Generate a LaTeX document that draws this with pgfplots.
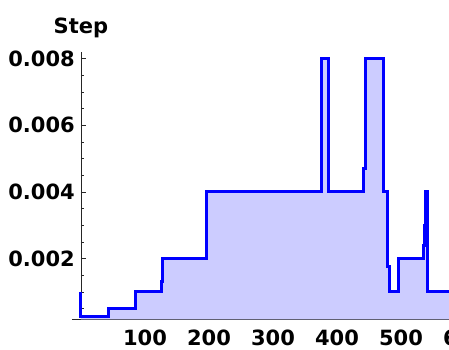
\documentclass[border=0pt]{standalone}
\usepackage{fontspec}
\setmainfont{DejaVu Sans}
\usepackage{pgfplots}
\pgfplotsset{compat=1.18}
\definecolor{fillc}{RGB}{204,204,255}
\definecolor{linec}{RGB}{0,0,255}
\begin{document}
\begin{tikzpicture}
\useasboundingbox (-72bp,-30bp) rectangle (377bp,319.3bp);
\begin{axis}[
  at={(0,0)}, anchor=south west,
  scale only axis, width=392.96bp, height=267.3bp,
  xmin=-14, xmax=600, ymin=0.00018, ymax=0.0082,
  axis lines=middle,
  axis line style={-, black!85, line width=0.8bp},
  /pgf/number format/assume math mode=true,
  scaled y ticks=false,
  xtick={100,200,300,400,500,600},
  xticklabels={100,200,300,400,500,600},
  ytick={0.002,0.004,0.006,0.008},
  yticklabels={0.002,0.004,0.006,0.008},
  minor xtick={20,40,60,80,120,140,160,180,220,240,260,280,320,340,360,380,420,440,460,480,520,540,560,580},
  minor ytick={0.0005,0.001,0.0015,0.0025,0.003,0.0035,0.0045,0.005,0.0055,0.0065,0.007,0.0075},
  tick align=inside,
  major tick length=5bp, minor tick length=3bp,
  tick style={black!85, line width=0.6bp},
  ticklabel style={font=\fontsize{21bp}{24bp}\selectfont\bfseries},
  xticklabel style={anchor=base, yshift=-26bp, inner sep=0pt},
  yticklabel style={anchor=east, inner sep=0pt, xshift=-6bp},
  ylabel={Step},
  every axis y label/.style={at={(axis cs:0,0.0082)}, anchor=base, yshift=19bp, font=\fontsize{21bp}{24bp}\selectfont\bfseries},
]
\addplot[const plot, fill=fillc, draw=none] coordinates {
(0,0.001) (0,0.00025) (43,0.0005) (85,0.001) (126,0.0013) (128,0.002)
(196,0.004) (376,0.008) (386,0.004) (442,0.0047) (444,0.008) (473,0.004)
(479,0.00175) (482,0.001) (496,0.002) (535,0.0024) (537,0.003) (539,0.004)
(542,0.001) (600,0.001)} \closedcycle;
\addplot[const plot, color=linec, line width=3bp, line join=miter] coordinates {
(0,0.001) (0,0.00025) (43,0.0005) (85,0.001) (126,0.0013) (128,0.002)
(196,0.004) (376,0.008) (386,0.004) (442,0.0047) (444,0.008) (473,0.004)
(479,0.00175) (482,0.001) (496,0.002) (535,0.0024) (537,0.003) (539,0.004)
(542,0.001) (600,0.001)};
\end{axis}
\end{tikzpicture}
\end{document}
